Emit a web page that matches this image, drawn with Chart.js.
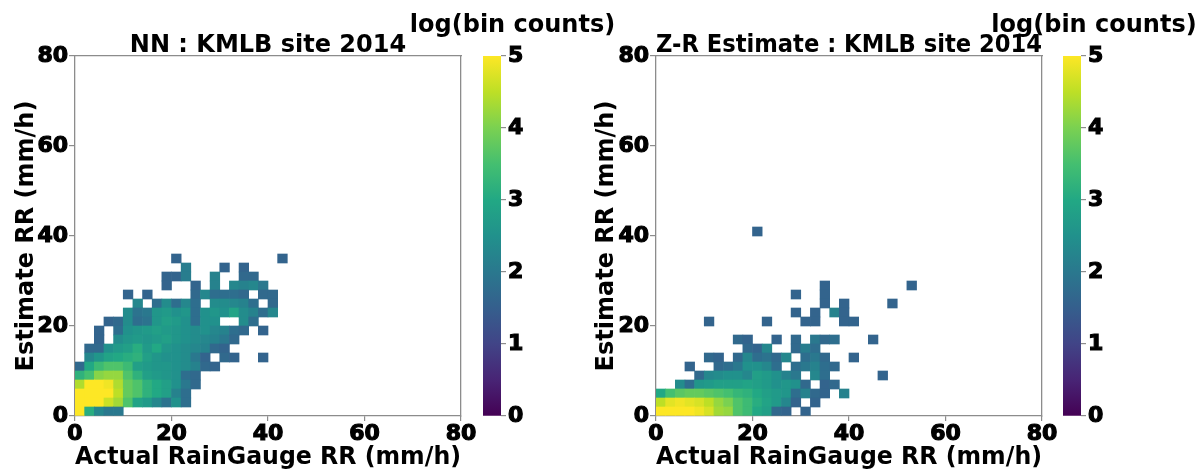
<!DOCTYPE html>
<html>
<head>
<meta charset="utf-8">
<script src="https://cdn.jsdelivr.net/npm/chart.js@4.4.1/dist/chart.umd.min.js"></script>
<style>
  html, body { margin: 0; padding: 0; background: #fff; overflow: hidden; }
  #wrap { position: relative; width: 1204px; height: 474px; }
  #wrap canvas { position: absolute; top: 0; }
</style>
</head>
<body>
<div id="wrap">
  <canvas id="nnChart" style="left:0px" width="490" height="474"></canvas>
  <canvas id="nnBar" style="left:392px" width="241" height="474"></canvas>
  <canvas id="zrChart" style="left:580px" width="490" height="474"></canvas>
  <canvas id="zrBar" style="left:984px" width="220" height="474"></canvas>
</div>
<script>
const _ = null;   // empty bin

// 2 mm/h x 2 mm/h bins, log10(bin count); rows go bottom (0-2 mm/h) to top
const binSize = 2;
const axisTicks = [0, 20, 40, 60, 80];
const colorbarTicks = [0, 1, 2, 3, 4, 5];

const nnLogCounts = [
  [5.0, 3.1, 2.3, 2.0, 2.0],
  [5.0, 5.0, 5.0, 4.6, 4.3, 3.6, 2.9, 2.7, 2.3, 1.9, 2.5, 1.8],
  [5.0, 5.0, 5.0, 5.0, 4.5, 3.8, 3.6, 3.2, 3.0, 2.8, 2.2, 1.8],
  [4.4, 5.0, 5.0, 4.9, 4.4, 3.8, 3.6, 3.2, 3.0, 2.8, 2.5, 2.0, 1.7],
  [3.2, 3.5, 4.1, 4.2, 4.2, 3.6, 3.2, 2.8, 2.7, 2.6, 2.5, 1.8, 1.7],
  [1.7, 3.0, 3.4, 3.6, 3.6, 3.4, 2.8, 2.7, 2.6, 2.6, 2.5, 2.4, 2.2, 1.7, 1.6],
  [_, 2.3, 2.6, 2.9, 3.0, 3.1, 3.2, 2.8, 2.6, 2.5, 2.5, 2.4, 2.0, 1.6, _, 1.7, 1.6, _, _, 1.6],
  [_, 1.7, 1.7, 2.5, 2.7, 2.8, 3.1, 2.7, 3.0, 2.6, 2.5, 2.4, 2.3, 2.2, 1.7, 1.6],
  [_, _, 1.6, _, 2.4, 2.6, 2.7, 2.6, 2.7, 2.8, 2.6, 2.5, 2.4, 2.3, 2.2, 2.0, 1.7],
  [_, _, 1.6, _, 1.8, 2.5, 2.6, 2.7, 2.8, 2.7, 2.6, 2.5, 2.4, 2.5, 2.3, 2.2, 1.8, 1.7, _, 1.6],
  [_, _, _, 1.6, 1.7, 2.4, 1.8, 1.9, 2.6, 2.8, 2.7, 2.5, 1.8, 2.5, 2.5, _, _, 2.4, 1.8],
  [_, _, _, _, _, 2.4, 1.9, 2.0, 2.6, 2.7, 2.5, 2.6, 1.8, 2.5, 2.6, 2.5, 2.9, 2.4, 2.2, 1.8, 2.3],
  [_, _, _, _, _, _, 2.3, _, 1.8, 2.4, 1.8, 2.3, 1.8, _, 2.4, 2.4, 2.3, 2.2, 1.8, _, 1.7],
  [_, _, _, _, _, 1.6, _, 1.6, _, _, _, _, 1.7, 2.3, 1.8, 1.8, 1.8, 1.7, _, 1.7, 1.7],
  [_, _, _, _, _, _, _, _, _, 1.6, _, _, 1.6, _, 2.2, _, 2.3, 2.2, 2.3, 2.0],
  [_, _, _, _, _, _, _, _, _, 1.6, 1.6, 2.1, _, _, 2.2, _, _, 1.7, 1.7],
  [_, _, _, _, _, _, _, _, _, _, _, 2.1, _, _, _, 1.6, _, 1.6],
  [_, _, _, _, _, _, _, _, _, _, 1.6, _, _, _, _, _, _, _, _, _, _, 1.6]
];

const zrLogCounts = [
  [5.0, 5.0, 5.0, 5.0, 4.9, 4.7, 4.3, 4.2, 3.6, 3.4, 3.0, 2.8, 1.7, 1.6, _, 1.6],
  [4.5, 4.8, 4.9, 4.8, 4.7, 4.5, 4.2, 4.0, 3.6, 3.4, 3.1, 2.9, 2.7, 2.3, 1.6, _, 1.6],
  [3.0, 3.5, 3.7, 3.8, 3.8, 3.7, 3.6, 3.5, 3.3, 3.2, 3.0, 2.8, 2.7, 2.6, 1.8, 2.2, 1.7, 1.6, _, 2.2],
  [_, _, 2.4, 1.8, 2.6, 2.7, 2.8, 2.8, 2.8, 2.9, 2.8, 2.7, 2.5, 2.6, 2.5, 1.7, _, 1.6, 1.7],
  [_, _, _, _, 1.7, 2.3, 2.4, 2.5, 2.5, 2.3, 2.8, 2.7, 2.5, 2.2, 2.0, _, 2.3, 1.8, _, _, _, _, _, 1.6],
  [_, _, _, 1.6, _, _, 1.7, 1.8, 2.0, 2.5, 2.5, 2.3, 1.8, _, 1.8, 2.0, 2.2, 1.8, 1.7],
  [_, _, _, _, _, 1.7, 1.6, _, 1.7, 2.3, 1.8, 1.9, 1.7, 2.3, _, 1.8, 2.0, 1.7, _, _, 1.6],
  [_, _, _, _, _, _, _, _, _, 1.7, 1.6, 2.3, _, _, 1.7, 2.1, 1.8],
  [_, _, _, _, _, _, _, _, 1.7, 1.6, _, _, 1.6, _, 1.7, _, 2.0, 1.7, 1.8, _, _, _, 1.6],
  [],
  [_, _, _, _, _, 1.6, _, _, _, _, _, 1.6, _, _, _, 1.6, 1.6, _, _, 1.6, 1.6],
  [_, _, _, _, _, _, _, _, _, _, _, _, _, _, 1.6, _, 1.6, _, 2.2, 1.6],
  [_, _, _, _, _, _, _, _, _, _, _, _, _, _, _, _, _, 1.6, _, 1.6, _, _, _, _, 1.6],
  [_, _, _, _, _, _, _, _, _, _, _, _, _, _, 1.6, _, _, 1.6],
  [_, _, _, _, _, _, _, _, _, _, _, _, _, _, _, _, _, 1.6, _, _, _, _, _, _, _, _, 1.6],
  [], [], [], [], [],
  [_, _, _, _, _, _, _, _, _, _, 1.6]
];

// matplotlib viridis, sampled every 0.1
const viridisStops = ['#440154', '#482475', '#414487', '#355f8d', '#2a788e', '#21918c',
                      '#22a884', '#44bf70', '#7ad151', '#bddf26', '#fde725'];

Chart.defaults.font.family = 'DejaVu Sans';
Chart.defaults.font.weight = 'bold';
Chart.defaults.color = '#000';

const axisGrey = '#8c8c8c';
const tickFont = { size: 22, weight: 'bold' };
const labelFont = { size: 24, weight: 'bold', lineHeight: 1.0 };

function hexToRgb(h) {
  return [1, 3, 5].map(k => parseInt(h.substr(k, 2), 16));
}

function viridis(t) {
  t = Math.min(1, Math.max(0, t));
  const n = viridisStops.length - 1;
  const k = Math.min(n - 1, Math.floor(t * n));
  const f = t * n - k;
  const a = hexToRgb(viridisStops[k]), b = hexToRgb(viridisStops[k + 1]);
  const c = a.map((v, m) => Math.round(v + (b[m] - v) * f));
  return 'rgb(' + c.join(',') + ')';
}

// one floating-bar dataset per row of bins
function heatmapDatasets(grid) {
  const vmax = colorbarTicks[colorbarTicks.length - 1];
  return grid.map((row, j) => {
    const pts = [], colors = [];
    row.forEach((v, i) => {
      if (v === null) return;
      pts.push({ x: i * binSize + binSize / 2, y: [j * binSize, (j + 1) * binSize] });
      colors.push(viridis(v / vmax));
    });
    return {
      data: pts,
      backgroundColor: colors,
      borderWidth: 0,
      grouped: false,
      barPercentage: 1,
      categoryPercentage: 1
    };
  });
}

function setTicks(values) {
  return scale => { scale.ticks = values.map(v => ({ value: v })); };
}

function makeHeatmap(id, titleText, grid, yWidth, padRight) {
  const tickOpts = { font: tickFont, textStrokeColor: '#000', textStrokeWidth: 1.2 };
  return new Chart(document.getElementById(id), {
    type: 'bar',
    data: { datasets: heatmapDatasets(grid) },
    options: {
      responsive: false,
      animation: false,
      layout: { padding: { top: 0, right: padRight, bottom: 4, left: 0 } },
      plugins: {
        legend: { display: false },
        tooltip: { enabled: false },
        title: {
          display: true,
          text: titleText,
          fullSize: false,
          font: labelFont,
          color: '#000',
          padding: { top: 34, bottom: -2 }
        }
      },
      scales: {
        x: {
          type: 'linear', position: 'bottom', min: 0, max: 80, offset: false,
          afterBuildTicks: setTicks(axisTicks),
          ticks: Object.assign({ padding: 0, maxRotation: 0 }, tickOpts),
          grid: { offset: false, drawOnChartArea: false, tickLength: 5, color: axisGrey, lineWidth: 1.2 },
          border: { color: axisGrey, width: 1.3 },
          title: { display: true, text: 'Actual RainGauge RR (mm/h)', font: labelFont, padding: { top: 0, bottom: 0 } },
          afterFit: s => { s.height = 54; s.paddingLeft = 0; s.paddingRight = 0; }
        },
        y: {
          type: 'linear', position: 'left', min: 0, max: 80,
          afterBuildTicks: setTicks(axisTicks),
          ticks: Object.assign({ padding: 1 }, tickOpts),
          grid: { drawOnChartArea: false, tickLength: 6, color: axisGrey, lineWidth: 1.2 },
          border: { color: axisGrey, width: 1.3 },
          title: { display: true, text: 'Estimate RR (mm/h)', font: labelFont, padding: { top: 15, bottom: 0 } },
          afterFit: s => { s.width = yWidth; s.paddingTop = 0; s.paddingBottom = 0; }
        },
        x2: {
          type: 'linear', position: 'top', min: 0, max: 80,
          ticks: { display: false }, grid: { display: false },
          border: { color: axisGrey, width: 1.3 },
          afterFit: s => { s.height = 0; s.paddingLeft = 0; s.paddingRight = 0; }
        },
        y2: {
          type: 'linear', position: 'right', min: 0, max: 80,
          ticks: { display: false }, grid: { display: false },
          border: { color: axisGrey, width: 1.3 },
          afterFit: s => { s.width = 0; s.paddingTop = 0; s.paddingBottom = 0; }
        }
      }
    }
  });
}

function makeColorbar(id, padLeft, axisWidth) {
  const lo = colorbarTicks[0], hi = colorbarTicks[colorbarTicks.length - 1];
  return new Chart(document.getElementById(id), {
    type: 'bar',
    data: {
      labels: [''],
      datasets: [{
        xAxisID: 'x', yAxisID: 'y',
        data: [[lo, hi]],
        borderWidth: 0,
        barPercentage: 1,
        categoryPercentage: 1,
        backgroundColor: ctx => {
          const chart = ctx.chart;
          if (!chart.chartArea) return viridisStops[0];
          const y = chart.scales.y;
          const g = chart.ctx.createLinearGradient(0, y.getPixelForValue(lo), 0, y.getPixelForValue(hi));
          viridisStops.forEach((c, k) => g.addColorStop(k / (viridisStops.length - 1), c));
          return g;
        }
      }]
    },
    options: {
      responsive: false,
      animation: false,
      layout: { padding: { top: 0, right: 0, bottom: 58, left: 0 } },
      plugins: {
        legend: { display: false },
        tooltip: { enabled: false },
        title: {
          display: true,
          text: 'log(bin counts)',
          font: labelFont,
          color: '#000',
          padding: { top: 14, bottom: 18 }
        }
      },
      scales: {
        x: { display: false },
        y: {
          type: 'linear', position: 'right', min: lo, max: hi,
          afterBuildTicks: setTicks(colorbarTicks),
          ticks: { font: tickFont, padding: 2, textStrokeColor: '#000', textStrokeWidth: 1.2 },
          grid: { drawOnChartArea: false, tickLength: 5, color: axisGrey, lineWidth: 1.2 },
          border: { display: false },
          afterFit: s => { s.width = axisWidth; s.paddingTop = 0; s.paddingBottom = 0; }
        },
        yPad: {
          type: 'linear', position: 'left', display: true,
          ticks: { display: false }, grid: { display: false }, border: { display: false },
          afterFit: s => { s.width = padLeft; s.paddingTop = 0; s.paddingBottom = 0; }
        }
      }
    }
  });
}

makeHeatmap('nnChart', 'NN : KMLB site 2014', nnLogCounts, 75, 29);
makeColorbar('nnBar', 91, 132);
makeHeatmap('zrChart', 'Z-R Estimate : KMLB site 2014', zrLogCounts, 76, 28);
makeColorbar('zrBar', 79, 123);
</script>
</body>
</html>
